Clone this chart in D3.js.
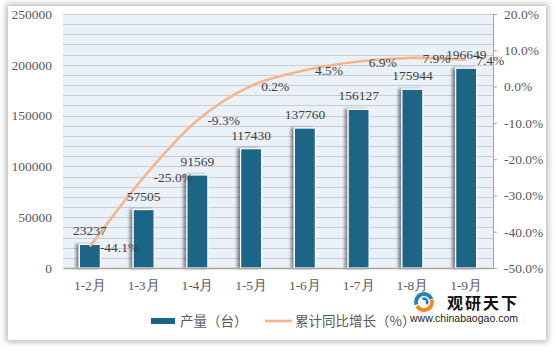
<!DOCTYPE html>
<html>
<head>
<meta charset="utf-8">
<script src="https://cdn.jsdelivr.net/npm/d3@7"></script>
<style>
  html, body { margin: 0; padding: 0; background: #fff; }
  #card {
    position: absolute; left: 8px; top: 6px; width: 538px; height: 334px;
    background: #fff; box-shadow: 0 0 6px 2px rgba(0,0,0,0.28);
  }
  svg { position: absolute; left: 0; top: 0; }
  .tick text { font-family: "Liberation Serif", "DejaVu Serif", serif; }
</style>
</head>
<body>
<div id="card"></div>
<div id="chart"></div>
<script>
const months = ['1-2月', '1-3月', '1-4月', '1-5月', '1-6月', '1-7月', '1-8月', '1-9月'];
const output = [23237, 57505, 91569, 117430, 137760, 156127, 175944, 196649];
const growth = [-44.1, -25.0, -9.3, 0.2, 4.5, 6.9, 7.9, 7.4];
const leftTicks = [0, 50000, 100000, 150000, 200000, 250000];
const rightTicks = [-50, -40, -30, -20, -10, 0, 10, 20];

const W = 554, H = 353;
const margin = {left: 63, right: 61, top: 14, bottom: 85};
const width = W - margin.left - margin.right;
const height = H - margin.top - margin.bottom;
const serif = '"Liberation Serif", "DejaVu Serif", serif';
const grey = '#595959';
const pct = d => d.toFixed(1) + '%';

const svg = d3.select('#chart').append('svg')
    .attr('width', W)
    .attr('height', H);

const defs = svg.append('defs');
const f = defs.append('filter').attr('id', 'shadow').attr('x', '-50%').attr('y', '-10%').attr('width', '200%').attr('height', '120%');
f.append('feGaussianBlur').attr('in', 'SourceAlpha').attr('stdDeviation', 1.6);
f.append('feOffset').attr('dx', -3).attr('dy', 0).attr('result', 'b');
f.append('feComponentTransfer').append('feFuncA').attr('type', 'linear').attr('slope', 0.45);
const fm = f.append('feMerge');
fm.append('feMergeNode');
fm.append('feMergeNode').attr('in', 'SourceGraphic');

const g = svg.append('g')
    .attr('transform', `translate(${margin.left}, ${margin.top})`);

const x = d3.scaleBand().domain(months).range([0, width]).paddingInner(0.61).paddingOuter(0.305);
const y = d3.scaleLinear().domain([0, 250000]).range([height, 0]);
const y2 = d3.scaleLinear().domain([-50, 20]).range([height, 0]);

g.append('rect')
    .attr('width', width)
    .attr('height', height)
    .attr('fill', '#EBF1F8');

g.append('g')
    .selectAll('line')
    .data(d3.range(10000, 250001, 10000))
  .join('line')
    .attr('x1', 0)
    .attr('x2', width)
    .attr('y1', d => Math.round(y(d)) + 0.5)
    .attr('y2', d => Math.round(y(d)) + 0.5)
    .attr('stroke', '#C9CDD2')
    .attr('stroke-width', 1);

// bars
g.append('g')
    .selectAll('rect')
    .data(output)
  .join('rect')
    .attr('x', (d, i) => x(months[i]))
    .attr('y', d => y(d))
    .attr('width', x.bandwidth())
    .attr('height', d => height - y(d))
    .attr('fill', '#1A6587')
    .attr('stroke', '#fff')
    .attr('stroke-width', 1.2)
    .attr('filter', 'url(#shadow)');

// bottom axis
const xAxis = g.append('g')
    .attr('transform', `translate(0, ${height})`)
    .call(d3.axisBottom(x).tickSize(0).tickPadding(12));
xAxis.select('.domain').attr('stroke', '#A6A6A6').attr('stroke-width', 1.5);
xAxis.selectAll('text').style('font-size', '13.5px').attr('fill', grey);

// left axis
const yAxis = g.append('g')
    .call(d3.axisLeft(y).tickValues(leftTicks).tickSize(0).tickPadding(11).tickFormat(d => String(d)));
yAxis.select('.domain').remove();
yAxis.selectAll('text').style('font-size', '13.5px').attr('fill', grey);

// right axis
const yAxis2 = g.append('g')
    .attr('transform', `translate(${width}, 0)`)
    .call(d3.axisRight(y2).tickValues(rightTicks).tickSize(4).tickSizeOuter(4).tickPadding(7)
      .tickFormat(pct));
yAxis2.select('.domain').attr('stroke', '#A6A6A6');
yAxis2.selectAll('line').attr('stroke', '#A6A6A6');
yAxis2.selectAll('text').style('font-size', '13.5px').attr('fill', grey);

// line
const cx = i => x(months[i]) + x.bandwidth() / 2;
const line = d3.line()
    .x((d, i) => cx(i))
    .y(d => y2(d))
    .curve(d3.curveCardinal.tension(0));

g.append('path')
    .datum(growth)
    .attr('d', line)
    .attr('fill', 'none')
    .attr('stroke', '#F6B48A')
    .attr('stroke-width', 2.6);

// bar labels
g.append('g')
    .selectAll('text')
    .data(output)
  .join('text')
    .attr('x', (d, i) => cx(i))
    .attr('y', d => y(d) - 9)
    .attr('text-anchor', 'middle')
    .attr('font-family', serif)
    .attr('font-size', '13.5px')
    .attr('fill', '#404040')
    .text(d => d);

// line labels
g.append('g')
    .selectAll('text')
    .data(growth)
  .join('text')
    .attr('x', (d, i) => cx(i) + 10)
    .attr('y', d => y2(d) + 5)
    .attr('font-family', serif)
    .attr('font-size', '13.5px')
    .attr('fill', '#404040')
    .text(pct);

// legend
const leg = svg.append('g').attr('transform', 'translate(0, 321)');
leg.append('rect').attr('x', 151).attr('y', -3).attr('width', 24).attr('height', 6).attr('fill', '#1A6587');
leg.append('text').attr('x', 180).attr('y', 5).attr('font-size', '13.5px').attr('fill', grey)
    .attr('font-family', '"Noto Sans CJK SC", sans-serif').text('产量（台）');
leg.append('line').attr('x1', 265).attr('x2', 292).attr('y1', 0).attr('y2', 0)
    .attr('stroke', '#F6B48A').attr('stroke-width', 2.6);
leg.append('text').attr('x', 295).attr('y', 5).attr('font-size', '13.5px').attr('fill', grey)
    .attr('font-family', '"Noto Sans CJK SC", sans-serif').text('累计同比增长（%）');

// watermark
const wm = svg.append('g');
const logo = wm.append('g').attr('transform', 'translate(424, 302)');
logo.append('path').attr('d', d3.arc()({innerRadius: 6, outerRadius: 10, startAngle: -1.9, endAngle: 1.2})).attr('fill', '#2A7FB8');
logo.append('path').attr('d', d3.arc()({innerRadius: 6, outerRadius: 10, startAngle: 1.3, endAngle: 4.2})).attr('fill', '#F08A1C');
logo.append('path').attr('d', d3.arc()({innerRadius: 2, outerRadius: 4.5, startAngle: -0.5, endAngle: 2.3})).attr('fill', '#2A7FB8');
wm.append('text').attr('x', 447).attr('y', 309).attr('font-size', '16px').attr('font-weight', 'bold')
    .attr('letter-spacing', '2px')
    .attr('font-family', '"Noto Sans CJK SC", sans-serif').attr('fill', '#111').text('观研天下');
wm.append('text').attr('x', 410).attr('y', 322).attr('font-size', '10.5px')
    .attr('font-family', '"Liberation Sans", Arial, sans-serif').attr('fill', '#222').text('www.chinabaogao.com');
</script>
</body>
</html>
